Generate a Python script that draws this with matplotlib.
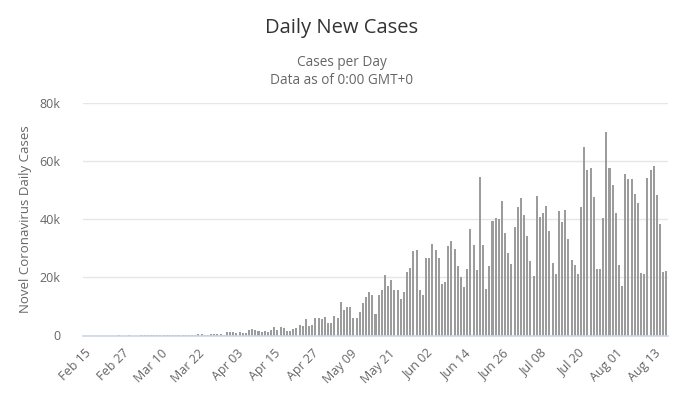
import matplotlib
matplotlib.use("Agg")
import matplotlib.pyplot as plt
import pandas as pd

plt.rcParams['font.family'] = ['Open Sans', 'DejaVu Sans']

start_date = "2020-02-15"
n_days = 185

# Daily new cases, Feb 15 .. Aug 17
cases_feb = [0]*11 + [1, 0, 0, 1]
cases_mar = [0, 0, 0, 2, 5, 5, 6, 7, 5, 6, 18, 25, 21, 23, 79, 34, 57, 137, 193, 283,
             224, 418, 345, 310, 232, 482, 502, 487, 352, 323]
cases_apr = [1138, 1119, 1208, 1012, 1304, 770, 1031, 1873, 2136, 1922, 1546, 1089,
             1442, 1261, 1832, 3058, 1800, 2900, 2700, 1600, 1600, 2200, 2600, 3500,
             3400, 5600, 3400, 3500, 6000, 6000]
cases_may = [5700, 6400, 4200, 4200, 6800, 6000, 11400, 8800, 9900, 9900, 6000, 6000,
             8000, 11100, 13400, 14800,
             14100, 7500, 13800, 15700, 20700, 16900, 19200, 15700, 15700, 12400,
             14900, 21700, 23300, 29000, 29300, 15700]
cases_jun = [13800, 26800, 26800, 31400, 29300, 26800, 17600, 18400, 30700, 32400,
             29800, 23800, 20300, 16700, 23000, 36700, 31000, 22600, 54600, 31000,
             16100, 23800, 39300, 40300, 40000, 46200, 35100, 28500, 24600, 37500,
             44100, 47200, 41300, 34400, 25600, 20600, 47900, 40700, 42300, 44600,
             35900, 24900, 21000, 42800, 39000, 43100, 33200, 25900, 24100, 21000,
             44300, 64700, 57100, 57600, 47600, 23000, 23000, 40500, 70000, 57600,
             51700, 42000, 24300, 17200, 55600, 54000, 54000, 48700, 45700, 21500,
             21100, 54100, 57100, 58300, 48400, 38200, 21700, 22200]

values = cases_feb + cases_mar + cases_apr + cases_may + cases_jun
dates = pd.date_range(start_date, periods=n_days, freq="D")
labels = [d.strftime("%b %d") for d in dates]

y_ticks = [0, 20000, 40000, 60000, 80000]
y_tick_labels = ["0", "20k", "40k", "60k", "80k"]

fig = plt.figure(figsize=(6.83, 3.95), dpi=100)
ax = fig.add_axes([83/683, 1-335.5/395, (668-83)/683, (335.5-103)/395])

x = list(range(len(values)))
ax.bar(x, values, width=0.64, color="#9c9c9c", zorder=3, linewidth=0)

ax.set_xlim(-0.5, len(values) - 0.5)
ax.set_ylim(0, 80000)
ax.set_yticks(y_ticks)
ax.set_yticklabels(y_tick_labels)
ax.yaxis.grid(True, color="#e6e6e6", linewidth=1, zorder=0)
ax.set_axisbelow(True)

tick_pos = x[::12]
ax.set_xticks(tick_pos)
ax.set_xticklabels([labels[i] for i in tick_pos], rotation=45, ha="right",
                   rotation_mode="anchor")

for s in ["top", "right", "left"]:
    ax.spines[s].set_visible(False)
ax.spines["bottom"].set_color("#ccd6eb")
ax.spines["bottom"].set_linewidth(1.2)
ax.spines["bottom"].set_zorder(4)

ax.tick_params(axis="y", length=0, pad=16, labelsize=9, labelcolor="#666666")
ax.tick_params(axis="x", length=0, pad=8, labelsize=9, labelcolor="#666666")

ax.set_ylabel("Novel Coronavirus Daily Cases", fontsize=9.5, color="#666666")
ax.yaxis.set_label_coords(-(83-32)/585, 0.5)

fig.text(0.5, 1-28/395, "Daily New Cases", ha="center", va="center",
         fontsize=14.5, color="#333333")
fig.text(0.5, 1-62/395, "Cases per Day", ha="center", va="center",
         fontsize=9.8, color="#666666")
fig.text(0.5, 1-80/395, "Data as of 0:00 GMT+0", ha="center", va="center",
         fontsize=9.8, color="#666666")

fig.savefig("out.png", dpi=100)
